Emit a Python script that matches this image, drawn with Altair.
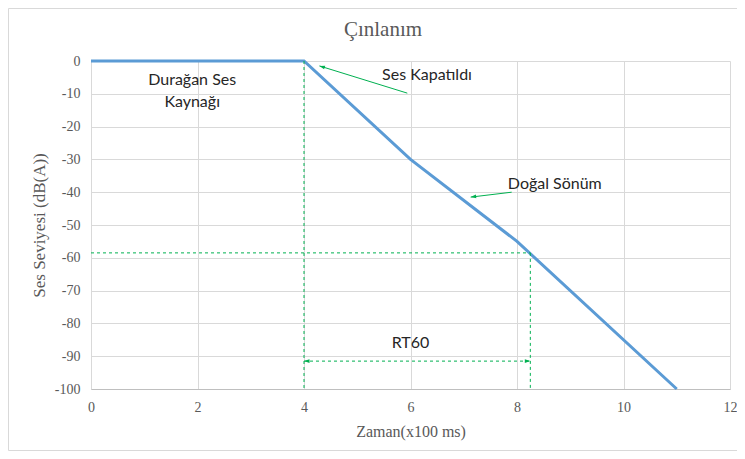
import altair as alt
import pandas as pd

# Main decay curve
time_x = [0, 4, 6, 8, 11]
level_y = [0, 0, -30, -55, -100]

# Axis ticks
x_ticks = [0, 2, 4, 6, 8, 10, 12]
y_ticks = [0, -10, -20, -30, -40, -50, -60, -70, -80, -90, -100]

# Guide values
off_time = 4.0
rt_end = 8.25
rt_level = -58.5
arrow_level = -91.5

# Annotation arrows (tail -> head)
kap_tail = (5.94, -9.8)
kap_head = (4.29, -1.5)
son_tail = (7.9, -40.0)
son_head = (7.13, -41.5)

# Labels
label_text = ["Ses Kapatıldı", "Doğal Sönüm", "RT60"]
label_x = [6.31, 8.71, 6.0]
label_y = [-4.3, -37.5, -86.0]
src_text = ["Durağan Ses", "Kaynağı"]
src_x = 1.9
src_y = -5.9
title_text = "Çınlanım"

GREEN = "#00B050"
GREY = "#595959"

xs = alt.Scale(domain=[0, 12], nice=False)
ys = alt.Scale(domain=[-100, 0], nice=False)

x_axis = alt.Axis(title="Zaman(x100 ms)", values=x_ticks, format="d",
                  grid=True, gridColor="#D9D9D9", domain=True, domainColor="#BFBFBF",
                  ticks=False, labelPadding=11, titlePadding=9, labelFlush=False,
                  labelFont="Liberation Serif", labelFontSize=14, labelColor=GREY,
                  titleFont="Liberation Serif", titleFontSize=16, titleColor=GREY,
                  titleFontWeight="normal")
y_axis = alt.Axis(title="Ses Seviyesi (dB(A))", values=y_ticks,
                  grid=True, gridColor="#D9D9D9", domain=False, ticks=False,
                  labelPadding=11, titlePadding=6, labelFlush=False,
                  labelExpr="datum.value + ''",
                  labelFont="Liberation Serif", labelFontSize=14, labelColor=GREY,
                  titleFont="Liberation Serif", titleFontSize=17, titleColor=GREY,
                  titleFontWeight="normal")

nx = lambda f: alt.X(f, scale=xs, axis=x_axis)
ny = lambda f: alt.Y(f, scale=ys, axis=y_axis)

curve = pd.DataFrame({"t": time_x, "L": level_y})
line = alt.Chart(curve).mark_line(color="#5B9BD5", strokeWidth=3).encode(x=nx("t:Q"), y=ny("L:Q"))

dashed = pd.DataFrame({
    "t": [off_time, rt_end, 0, off_time],
    "L": [0, rt_level, rt_level, arrow_level],
    "t2": [off_time, rt_end, rt_end, rt_end],
    "L2": [-100, -100, rt_level, arrow_level],
})
dash_rules = alt.Chart(dashed).mark_rule(color=GREEN, strokeDash=[3, 3], strokeWidth=1).encode(
    x=nx("t:Q"), y=ny("L:Q"), x2="t2:Q", y2="L2:Q")

solid = pd.DataFrame({
    "t": [kap_tail[0], son_tail[0]],
    "L": [kap_tail[1], son_tail[1]],
    "t2": [kap_head[0], son_head[0]],
    "L2": [kap_head[1], son_head[1]],
})
solid_rules = alt.Chart(solid).mark_rule(color=GREEN, strokeWidth=1).encode(
    x=nx("t:Q"), y=ny("L:Q"), x2="t2:Q", y2="L2:Q")

heads = pd.DataFrame({
    "t": [kap_head[0], son_head[0], off_time, rt_end],
    "L": [kap_head[1], son_head[1], arrow_level, arrow_level],
    "ang": [287, 263, 270, 90],
})
arrowheads = alt.Chart(heads).mark_point(
    shape="M0,0 L-0.7,2 L0.7,2 Z", filled=True, color=GREEN, size=30, opacity=1
).encode(x=nx("t:Q"), y=ny("L:Q"), angle=alt.Angle("ang:Q", scale=None))

labels = pd.DataFrame({"t": label_x, "L": label_y, "txt": label_text})
label_marks = alt.Chart(labels).mark_text(font="Lato", fontSize=16, color="#262626").encode(
    x=nx("t:Q"), y=ny("L:Q"), text="txt:N")

src = alt.Chart(pd.DataFrame({"t": [src_x], "L": [src_y]})).mark_text(
    font="Lato", fontSize=16, color="#262626", lineHeight=22
).encode(x=nx("t:Q"), y=ny("L:Q"), text=alt.value(src_text))

title = alt.Chart(pd.DataFrame({"a": [0]})).mark_text(
    font="Liberation Serif", fontSize=21, color=GREY
).encode(x=alt.value(292), y=alt.value(-31), text=alt.value(title_text))

frame = alt.Chart(pd.DataFrame({"a": [0]})).mark_rect(
    fill=None, stroke="#D9D9D9", strokeWidth=1
).encode(x=alt.value(-82.5), x2=alt.value(700), y=alt.value(-52.5), y2=alt.value(389.5))

chart = alt.layer(line, dash_rules, solid_rules, arrowheads, label_marks, src, title, frame).properties(
    width=639, height=328,
    autosize=alt.AutoSizeParams(type="none"),
    padding={"left": 83, "top": 53, "right": 7, "bottom": 62},
).configure_view(stroke=None)

chart.save("out.html", embed_options={"renderer": "svg", "actions": False})
